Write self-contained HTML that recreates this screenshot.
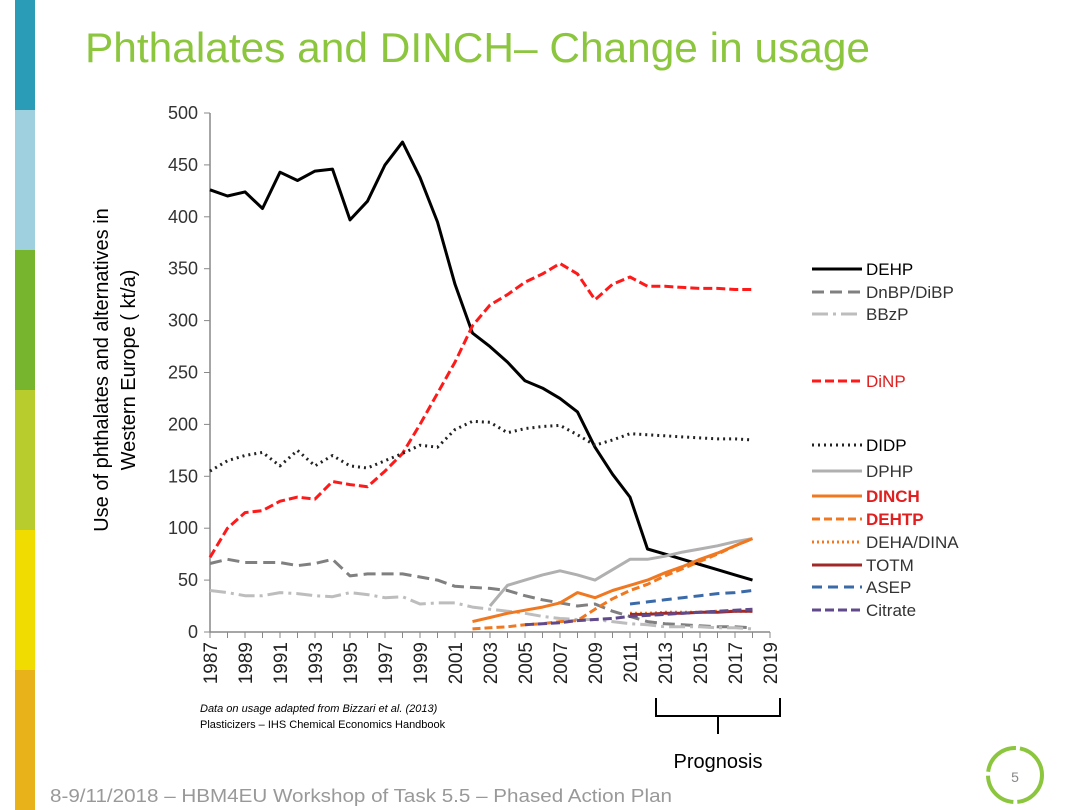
<!DOCTYPE html>
<html><head><meta charset="utf-8"><style>
body{margin:0;width:1080px;height:810px;background:#fff;overflow:hidden;font-family:"Liberation Sans","DejaVu Sans",sans-serif;}
svg{display:block}
</style></head><body>
<svg width="1080" height="810" xmlns="http://www.w3.org/2000/svg">
<g>
<rect x="15" y="0" width="20" height="110" fill="#2a9cb8"/>
<rect x="15" y="110" width="20" height="140" fill="#9fd0e0"/>
<rect x="15" y="250" width="20" height="140" fill="#78b52e"/>
<rect x="15" y="390" width="20" height="140" fill="#b8cc2e"/>
<rect x="15" y="530" width="20" height="140" fill="#f0dc00"/>
<rect x="15" y="670" width="20" height="140" fill="#e8b21a"/>
</g>
<text x="85" y="62" font-size="42" fill="#8cc63e" textLength="785" lengthAdjust="spacingAndGlyphs">Phthalates and DINCH– Change in usage</text>
<g id="chart"></g>
<text x="200" y="712" font-size="11" font-style="italic" fill="#000">Data on usage adapted from Bizzari et al. (2013)</text>
<text x="200" y="728" font-size="11" fill="#000">Plasticizers – IHS Chemical Economics Handbook</text>
<path d="M656,698 L656,716 L718,716 L718,734 M718,716 L780,716 L780,698" fill="none" stroke="#000" stroke-width="2"/>
<text x="718" y="768" font-size="20" text-anchor="middle">Prognosis</text>
<text x="50" y="802" font-size="18" fill="#999" textLength="622" lengthAdjust="spacingAndGlyphs">8-9/11/2018 – HBM4EU Workshop of Task 5.5 – Phased Action Plan</text>
<g>
<circle cx="1015" cy="775" r="27" fill="none" stroke="#8cc63e" stroke-width="4" stroke-dasharray="40 4"/>
<text x="1015" y="782" font-size="14" fill="#888" text-anchor="middle">5</text>
</g>
</svg>
<script>
const years=[];for(let y=1987;y<=2018;y++)years.push(y);
const xTicks=[1987,1989,1991,1993,1995,1997,1999,2001,2003,2005,2007,2009,2011,2013,2015,2017,2019];
const yTicks=[0,50,100,150,200,250,300,350,400,450,500];
const dehp=[426,420,424,408,443,435,444,446,397,415,450,472,438,395,335,288,275,260,242,235,225,212,178,152,130,80,75,70,65,60,55,50];
const dinp=[72,100,115,117,126,130,128,145,142,140,155,172,200,230,260,295,315,325,337,345,355,345,320,335,342,333,333,332,331,331,330,330];
const didp=[155,165,170,173,160,175,160,170,160,158,165,172,180,178,195,203,202,192,196,198,199,190,180,185,191,190,189,188,187,186,186,185];
const dnbp=[66,70,67,67,67,64,66,70,54,56,56,56,53,50,44,43,42,40,35,31,28,25,27,20,15,10,8,7,6,5,5,4];
const bbzp=[40,38,35,35,38,37,35,34,38,36,33,34,27,28,28,24,22,20,18,15,13,12,12,10,8,7,5,5,5,4,4,3];
const dphpYears=[2003,2004,2005,2006,2007,2008,2009,2010,2011,2012,2013,2014,2015,2016,2017,2018];
const dphp=[25,45,50,55,59,55,50,60,70,70,73,77,80,83,87,90];
const newYears=[2002,2003,2004,2005,2006,2007,2008,2009,2010,2011,2012,2013,2014,2015,2016,2017,2018];
const dinch=[10,14,18,21,24,28,38,33,40,45,50,57,63,70,76,83,90];
const dehtp=[3,4,5,7,8,10,11,22,32,40,46,54,61,68,75,83,90];
const progYears=[2011,2012,2013,2014,2015,2016,2017,2018];
const deha=[18,18,19,19,19,20,20,20];
const totm=[17,17,18,18,19,19,20,20];
const asep=[27,29,31,33,35,37,38,40];
const citrateYears=[2005,2006,2007,2008,2009,2010,2011,2012,2013,2014,2015,2016,2017,2018];
const citrate=[7,8,9,11,12,13,15,16,17,18,19,20,21,22];
const NS='http://www.w3.org/2000/svg';
const X=y=>210+(y-1987)*17.5, Y=v=>632-v*1.038;
const g=document.getElementById('chart');
function mk(t,a,p){const e=document.createElementNS(NS,t);for(const k in a)e.setAttribute(k,a[k]);(p||g).appendChild(e);return e;}
const ax=mk('path',{d:`M${X(1987)},${Y(500)} L${X(1987)},${Y(0)} L${X(2019)},${Y(0)}`,fill:'none',stroke:'#888','stroke-width':1.5});


yTicks.forEach(v=>{mk('line',{x1:X(1987)-6,x2:X(1987),y1:Y(v),y2:Y(v),stroke:'#888'});
const t=mk('text',{x:X(1987)-12,y:Y(v)+6,'font-size':18,'text-anchor':'end',fill:'#333'});t.textContent=v;

});
for(let y=1987;y<=2019;y++)mk('line',{x1:X(y),x2:X(y),y1:Y(0),y2:Y(0)+6,stroke:'#888'});
xTicks.forEach(yr=>{const t=mk('text',{x:0,y:0,'font-size':19,'text-anchor':'end',fill:'#222',transform:`translate(${X(yr)+7},${Y(0)+10}) rotate(-90)`});t.textContent=yr;

});
const yt=mk('text',{x:0,y:0,'font-size':20,'text-anchor':'middle',transform:'translate(108,370) rotate(-90)'});


mk('tspan',{x:0,dy:0},yt).textContent='Use of phthalates and alternatives in';
mk('tspan',{x:0,dy:27},yt).textContent='Western Europe (  kt/a)';
const series=[
['DEHP',years,dehp,'#000',3,'',  '#000',false],
['DnBP/DiBP',years,dnbp,'#808080',3,'12 6','#333',false],
['BBzP',years,bbzp,'#bdbdbd',3,'16 5 3 5','#333',false],
['DiNP',years,dinp,'#ff1a1a',3,'9 4','#e02020',false],
['DIDP',years,didp,'#222',3,'2 4','#000',false],
['DPHP',dphpYears,dphp,'#b0b0b0',3,'','#333',false],
['DINCH',newYears,dinch,'#f07820',3,'','#e02020',true],
['DEHTP',newYears,dehtp,'#f07820',3,'8 4','#e02020',true],
['DEHA/DINA',progYears,deha,'#f07820',3,'2 3','#333',false],
['TOTM',progYears,totm,'#a02828',3,'','#333',false],
['ASEP',progYears,asep,'#3a6aa8',3,'10 6','#333',false],
['Citrate',citrateYears,citrate,'#604a8c',3,'9 4','#333',false]];
const legY=[269,292,314,381,445,471,496,519,542,565,587,610];
series.forEach((s,i)=>{
const d=s[1].map((yr,j)=>(j?'L':'M')+X(yr).toFixed(1)+','+Y(s[2][j]).toFixed(1)).join(' ');
const p=mk('path',{d,fill:'none',stroke:s[3],'stroke-width':s[4],'stroke-dasharray':s[5],'stroke-linejoin':'round'});


const ly=legY[i];
const ll=mk('line',{x1:812,x2:862,y1:ly,y2:ly,stroke:s[3],'stroke-width':3,'stroke-dasharray':s[5]});


const lt=mk('text',{x:866,y:ly+6,'font-size':17,fill:s[6],'font-weight':s[7]?'bold':'normal'});lt.textContent=s[0];


});
</script>
</body></html>
